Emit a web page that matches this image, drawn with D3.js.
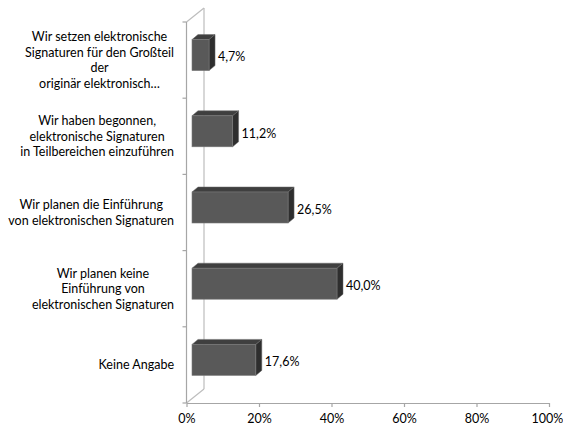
<!DOCTYPE html>
<html>
<head>
<meta charset="utf-8">
<script src="https://cdn.jsdelivr.net/npm/d3@7"></script>
<style>
  body { margin: 0; background: #fff; }
  text { font-family: Lato, "Open Sans", sans-serif; font-size: 12.5px; fill: #000; }
</style>
</head>
<body>
<div id="chart"></div>
<script>
  "use strict";

  /* <!-- Data --> */
  var categories = [
    ["Wir setzen elektronische", "Signaturen für den Großteil", "der", "originär elektronisch…"],
    ["Wir haben begonnen,", "elektronische Signaturen", "in Teilbereichen einzuführen"],
    ["Wir planen die Einführung", "von elektronischen Signaturen"],
    ["Wir planen keine", "Einführung von", "elektronischen Signaturen"],
    ["Keine Angabe"]
  ];
  var values = [4.7, 11.2, 26.5, 40.0, 17.6];
  var ticks = [0, 20, 40, 60, 80, 100];

  (() => {
    /* <!-- Layout --> */
    var W = 563, H = 427,
      wall = { dx: 17.5, dy: -14 },
      bar = { off: 5.5, dx: 6, dy: -5 },
      plotTop = 22, plotBottom = 403;

    var svg = d3.select("#chart").append("svg").attr("width", W).attr("height", H);

    var x = d3.scaleLinear().domain([0, 100]).range([186.5, 549]),
      keys = d3.range(values.length),
      y = d3.scaleBand().domain(keys).range([plotTop, plotBottom]);

    /* <!-- Walls --> */
    var wallLine = (x1, y1, x2, y2, c) => svg.append("line")
      .attr("x1", x1).attr("y1", y1).attr("x2", x2).attr("y2", y2)
      .attr("stroke", c).attr("stroke-width", 1.2);

    wallLine(x(0) + wall.dx, plotTop + wall.dy, x(0) + wall.dx, plotBottom + wall.dy, "#bdbdbd");
    wallLine(x(0), plotTop, x(0) + wall.dx, plotTop + wall.dy, "#bdbdbd");
    wallLine(x(0), plotBottom, x(0) + wall.dx, plotBottom + wall.dy, "#bdbdbd");
    wallLine(x(0), plotTop, x(0), plotBottom, "#a6a6a6");

    /* <!-- Category ticks --> */
    var bounds = keys.map(k => y(k)).concat([plotBottom]);
    svg.selectAll(".ctick").data(bounds).enter().append("line")
      .attr("x1", x(0) - 4).attr("x2", x(0))
      .attr("y1", d => d).attr("y2", d => d)
      .attr("stroke", "#a6a6a6").attr("stroke-width", 1.2);

    /* <!-- Value axis --> */
    var axis = svg.append("g")
      .attr("transform", `translate(0,${plotBottom})`)
      .call(d3.axisBottom(x).tickValues(ticks).tickSize(4).tickSizeOuter(0).tickFormat(d => d + "%"));
    axis.select(".domain").attr("stroke", "#a6a6a6").attr("stroke-width", 1.2);
    axis.selectAll(".tick line").attr("stroke", "#a6a6a6").attr("stroke-width", 1.2);
    axis.selectAll(".tick text").attr("y", 8).attr("dy", "0.95em")
      .style("font-family", "Lato, 'Open Sans', sans-serif").style("font-size", "12.5px").attr("fill", "#000");
    axis.selectAll(".tick:last-of-type text").attr("dx", "-2");

    /* <!-- Bars --> */
    var bh = 31;
    var g = svg.selectAll(".bar").data(values).enter().append("g").attr("class", "bar");

    var fx0 = () => x(0) + bar.off,
      fx1 = d => x(d) + bar.off,
      fy0 = (d, i) => y(i) + y.bandwidth() / 2 - 5 - bh / 2;

    g.append("path")
      .attr("d", (d, i) => {
        var a = fx0(), b = fx1(d), t = fy0(d, i);
        return `M${a},${t}L${a + bar.dx},${t + bar.dy}L${b + bar.dx},${t + bar.dy}L${b},${t}Z`;
      })
      .attr("fill", "#3f3f3f").attr("stroke", "#6a6a6a").attr("stroke-width", 0.5);

    g.append("path")
      .attr("d", (d, i) => {
        var b = fx1(d), t = fy0(d, i);
        return `M${b},${t}L${b + bar.dx},${t + bar.dy}L${b + bar.dx},${t + bh + bar.dy}L${b},${t + bh}Z`;
      })
      .attr("fill", "#2e2e2e").attr("stroke", "#6a6a6a").attr("stroke-width", 0.5);

    g.append("rect")
      .attr("x", fx0).attr("y", fy0)
      .attr("width", d => fx1(d) - fx0()).attr("height", bh)
      .attr("fill", "#595959").attr("stroke", "#7a7a7a").attr("stroke-width", 0.6);

    g.append("text")
      .attr("x", d => fx1(d) + bar.dx + 3)
      .attr("y", (d, i) => fy0(d, i) + bh / 2 + 2)
      .attr("dy", "0.35em")
      .text(d => d.toFixed(1).replace(".", ",") + "%");

    /* <!-- Category labels --> */
    var lh = 15.5, right = 174;
    categories.forEach((lines, i) => {
      var cy = y(i) + y.bandwidth() / 2,
        lab = svg.append("g");
      var t = lab.selectAll("text").data(lines).enter().append("text")
        .attr("y", (d, j) => cy + (j - (lines.length - 1) / 2) * lh)
        .attr("dy", "0.35em")
        .attr("text-anchor", "middle")
        .text(d => d);
      var w = d3.max(t.nodes(), n => n.getComputedTextLength());
      t.attr("x", right - w / 2);
    });
  })();
</script>
</body>
</html>
